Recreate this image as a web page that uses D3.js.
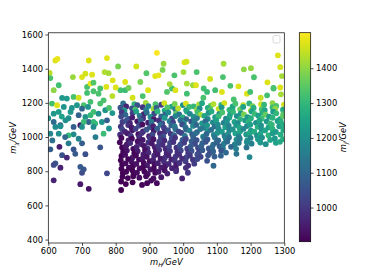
<!DOCTYPE html>
<html>
<head>
<meta charset="utf-8">
<script src="https://cdn.jsdelivr.net/npm/d3@7"></script>
<style>
    body { margin: 0; background: #fff; }
    svg { display: block; }
    text { font-family: "DejaVu Sans", sans-serif; }
</style>
</head>
<body>
<div id="chart"></div>
<script>
// x values (m_H), one line per group of points
const mH = [
    604,606,621,627,720,774,922,1004,1010,1120,
    1281,1288,807,861,942,939,1001,1040,1180,1201,
    1293,673,700,710,730,767,779,791,828,873,
    891,917,927,974,1011,1029,1038,1118,1164,1268,
    1288,631,616,715,725,734,754,772,814,828,
    838,896,952,967,977,1011,1061,1071,1095,1115,
    1189,1199,1249,1268,655,675,641,611,626,715,
    734,749,705,725,754,764,1230,1290,1150,1060,
    880,850,790,1140,960,1250,1210,1080,690,800,
    616,631,646,666,670,685,700,718,690,710,
    725,616,636,651,734,749,769,720,739,759,
    774,695,705,734,606,631,621,636,675,660,
    700,675,734,764,633,641,621,616,636,606,
    675,680,700,754,660,700,705,695,616,695,
    720,774,650,690,612,655,710,740,780,790,
    660,640,600,780,
    822,831,855,864,889,897,918,935,944,966,975,999,1008,1031,1047,1056,1082,1090,1113,1122,1147,1155,1178,1196,1206,1231,1240,1265,1276,1299,
    814,826,848,858,880,890,912,921,945,953,977,985,1009,1018,1041,1049,1073,1081,1105,1114,1137,1146,1169,1178,1201,1209,1233,1242,1265,1273,1296,
    818,829,850,861,883,892,914,924,947,956,979,988,1011,1020,1043,1052,1075,1084,1107,1116,1139,1148,1171,1180,1203,1212,1235,1244,1267,1276,1297,
    816,839,849,871,881,903,913,935,945,967,977,999,1009,1031,1041,1063,1073,1095,1105,1127,1137,1159,1169,1191,1201,1223,1233,1255,1265,1287,1296,
    820,832,842,864,874,896,906,928,938,960,970,992,1002,1024,1034,1056,1066,1088,1098,1120,1130,1152,1162,1184,1194,1216,1226,1248,1258,1280,1290,
    815,837,847,869,879,901,911,933,943,965,975,997,1007,1029,1039,1061,1071,1093,1103,1125,1135,1157,1167,1189,1199,1221,1231,1253,1263,1285,1295,
    819,827,849,859,881,891,913,923,945,955,977,987,1009,1019,1041,1051,1073,1083,1105,1115,1137,1147,1169,1179,1201,1211,1233,1243,1265,1275,1297,
    813,835,845,867,877,899,909,931,941,963,973,995,1005,1027,1037,1059,1069,1091,1101,1123,1133,1155,1165,1187,1197,1219,1229,1253,1265,1289,
    817,838,848,870,880,902,912,934,944,966,976,998,1008,1030,1040,1062,1072,1094,1104,1126,1136,1158,1168,1190,1200,1222,1234,1258,1272,1296,
    812,833,843,865,875,897,907,929,939,961,971,993,1003,1025,1035,1057,1067,1089,1099,1121,1131,1153,1165,1189,1203,1229,1245,1275,1287,
    819,830,852,862,884,894,916,926,948,958,980,990,1012,1022,1044,1054,1076,1086,1108,1118,1142,1157,1188,
    822,833,855,865,887,897,919,929,951,961,983,993,1015,1025,1047,1057,1079,1089,1113,1127,1158,
    817,828,850,860,882,892,914,924,946,956,978,988,1010,1020,1042,1052,1074,1093,1112,
    815,837,847,869,879,901,911,933,943,965,975,997,1007,1029,1042,1071,
    819,829,851,861,883,893,915,925,947,957,979,989,1015,1033,1090,
    817,839,849,871,881,903,913,935,945,967,979,1008,
    821,831,853,863,885,895,917,927,953,979,1014,
    820,836,852,870,890,912,935,997,
    816,830,850,878,893,922,905,816,1197
];

// y values (m_chi), same layout as mH
const mChi = [
    1375,1345,1448,1458,1448,1462,1493,1437,1441,1429,
    1478,1409,1413,1413,1429,1393,1380,1380,1396,1403,
    1357,1351,1351,1371,1365,1380,1374,1332,1322,1322,
    1374,1357,1361,1361,1313,1303,1303,1351,1297,1287,
    1290,1303,1274,1293,1313,1318,1284,1293,1274,1274,
    1287,1274,1264,1284,1274,1254,1284,1264,1274,1264,
    1254,1264,1244,1284,1225,1235,1229,1196,1186,1258,
    1268,1254,1186,1206,1196,1215,1230,1250,1220,1230,
    1240,1230,1240,1300,1310,1320,1350,1340,1230,1290,
    1137,1147,1176,1147,1170,1186,1166,1176,1128,1118,
    1128,1088,1069,1098,1147,1137,1157,1088,1079,1088,
    1098,1069,1088,1088,1020,1020,1059,1063,1016,1010,
    1059,1059,1059,1020,943,894,846,837,821,928,
    928,902,963,940,963,791,811,826,747,724,
    697,788,1000,990,980,880,900,1000,1050,1140,
    1110,1120,1110,1170,
    1197,1179,1193,1186,1200,1181,1192,1189,1199,1178,1194,1187,1196,1180,1191,1198,1183,1193,1188,1199,1180,1195,1186,1197,1181,1192,1189,1198,1182,1190,
    1172,1156,1168,1161,1175,1159,1164,1170,1155,1173,1162,1168,1157,1176,1160,1167,1171,1156,1165,1174,1159,1168,1163,1176,1155,1170,1162,1158,1173,1166,1160,
    1145,1130,1140,1149,1134,1143,1137,1150,1131,1144,1139,1132,1149,1136,1145,1130,1141,1150,1135,1144,1131,1147,1139,1133,1150,1136,1142,1131,1148,1139,1134,
    1120,1106,1114,1124,1109,1118,1104,1121,1112,1107,1123,1115,1105,1119,1111,1124,1106,1116,1121,1108,1114,1123,1105,1117,1110,1125,1107,1119,1113,1104,1121,
    1088,1096,1081,1092,1099,1084,1090,1097,1080,1093,1086,1099,1082,1091,1095,1080,1092,1086,1098,1083,1094,1089,1081,1097,1088,1083,1096,1091,1079,1094,1087,
    1061,1070,1056,1066,1073,1057,1064,1072,1055,1068,1062,1074,1057,1065,1071,1054,1069,1061,1073,1058,1066,1070,1055,1064,1072,1059,1068,1056,1073,1063,1069,
    1045,1031,1040,1048,1033,1043,1037,1049,1030,1041,1046,1032,1044,1038,1029,1047,1036,1042,1049,1031,1040,1045,1034,1048,1038,1031,1044,1039,1047,1030,1041,
    1014,1021,1006,1017,1023,1005,1015,1022,1004,1019,1011,1024,1007,1016,1022,1003,1018,1012,1024,1006,1017,1021,1004,1015,1023,1008,1019,1010,1022,1014,
    995,981,990,999,984,993,987,998,980,992,996,983,989,999,982,994,986,997,981,991,998,985,990,980,995,987,997,983,992,988,
    969,957,965,974,959,968,962,973,955,966,971,958,967,974,960,965,972,956,968,962,974,957,966,970,961,968,958,966,972,
    939,946,931,942,948,934,941,947,930,943,938,949,932,944,937,948,933,941,946,935,943,931,939,
    913,921,906,917,923,909,916,924,905,918,912,922,907,919,913,923,906,916,921,909,902,
    889,896,881,893,898,884,891,899,880,894,887,897,882,892,898,884,893,886,891,
    864,871,856,868,874,859,866,873,855,869,862,874,858,867,871,861,
    839,846,831,843,848,834,841,847,830,843,837,848,833,844,832,
    814,821,806,817,823,810,816,822,805,818,812,820,
    789,797,781,792,798,784,791,797,786,800,791,
    767,760,771,762,770,758,765,758,
    740,725,735,720,730,730,745,690,883
];

// colour values (m_J), same layout as mH
const mJ = [
    1440,1330,1470,1480,1470,1475,1502,1470,1460,1420,
    1470,1460,1380,1460,1410,1380,1420,1330,1400,1410,
    1420,1410,1470,1460,1470,1430,1420,1470,1470,1380,
    1340,1470,1480,1330,1420,1410,1470,1330,1470,1320,
    1470,1320,1400,1330,1480,1340,1330,1470,1320,1310,
    1370,1470,1340,1320,1470,1320,1320,1310,1320,1470,
    1470,1320,1320,1330,1230,1330,1220,1320,1470,1320,
    1330,1330,1330,1320,1330,1330,1450,1420,1330,1330,
    1330,1460,1440,1330,1420,1470,1330,1460,1460,1470,
    1220,1230,1210,1220,1210,1220,1100,1210,1090,1210,
    1300,1110,1090,1200,1320,1200,1210,1090,1300,1210,
    1080,950,1310,1300,1180,1200,1190,1200,1190,1300,
    1200,1080,1190,1310,950,1050,1060,1040,960,1080,
    1060,1070,1080,1060,1150,1040,1060,1070,960,940,
    930,1030,1100,1170,1120,970,1050,1150,1210,1220,
    1200,1240,1210,1330,
    1120,960,1300,1050,1420,1180,1330,1010,1460,1250,1380,1200,1470,1300,1420,1260,1350,1430,1300,1460,1250,1330,1440,1290,1380,1460,1300,1400,1330,1460,
    1060,1220,1050,1330,990,1180,1410,1080,1260,1340,1150,1440,1210,1310,1400,1190,1280,1350,1450,1220,1300,1260,1370,1240,1440,1280,1330,1250,1310,1400,1270,
    1000,1100,1010,1250,960,1120,1030,1290,1080,1200,1350,1130,1260,1180,1320,1420,1210,1270,1190,1330,1240,1300,1220,1380,1250,1310,1280,1360,1230,1300,1340,
    1040,1060,950,1130,990,1190,940,1100,1230,1020,1170,1280,1090,1210,1150,1250,1180,1220,1310,1170,1250,1200,1290,1220,1280,1240,1310,1230,1290,1260,1350,
    1010,1050,960,930,1090,950,1140,990,1030,1160,1020,1120,1190,1060,1150,1220,1110,1180,1240,1160,1210,1250,1180,1230,1290,1200,1260,1220,1300,1240,1280,
    990,990,940,1040,925,1070,960,1110,1010,1090,1150,1040,1130,1190,1100,1160,1210,1130,1190,1240,1170,1220,1260,1190,1240,1280,1210,1250,1300,1230,1270,
    1030,970,940,1020,950,1060,930,1080,990,1050,1120,1030,1100,1170,1080,1140,1200,1120,1180,1230,1160,1210,1250,1180,1230,1270,1210,1250,1290,1230,1270,
    980,950,1000,930,990,950,1030,970,1060,1000,1090,1020,1140,1070,1120,1180,1100,1160,1210,1140,1200,1240,1170,1220,1260,1200,1250,1290,1230,1270,
    920,950,915,980,940,1000,930,1020,970,1040,990,1070,1020,1090,1050,1120,1070,1140,1100,1170,1120,1190,1150,1220,1170,1230,1200,1250,1220,1280,
    915,940,980,925,960,990,940,1010,980,1030,990,1060,1010,1080,1040,1100,1060,1120,1090,1150,1110,1170,1140,1190,1160,1220,1200,1240,1260,
    910,940,920,960,935,980,950,1000,970,1020,990,1050,1010,1070,1040,1090,1060,1110,1080,1140,1100,1160,1130,
    910,930,905,950,925,970,940,990,960,1000,980,1030,1000,1050,1020,1070,1040,1090,1060,1110,1130,
    905,925,940,915,950,930,970,945,990,960,1000,980,1030,1000,1040,1020,1060,1080,1090,
    910,905,930,915,940,925,960,945,980,955,990,975,1010,995,1030,1050,
    905,920,905,930,915,945,925,955,935,970,950,990,975,1010,1100,
    905,915,903,925,910,935,915,945,930,960,945,985,
    903,912,906,920,908,930,915,940,955,985,1000,
    905,910,905,920,915,930,940,960,
    905,908,905,910,912,915,920,902,1180
];

const xTicks = [600, 700, 800, 900, 1000, 1100, 1200, 1300];
const yTicks = [400, 600, 800, 1000, 1200, 1400, 1600];
const cTicks = [1000, 1100, 1200, 1300, 1400];

const W = 382, H = 273;
const plot = { left: 48.3, right: 284.3, top: 32.8, bottom: 243 };
const bar = { left: 299.3, width: 11.4, top: 32.7, bottom: 241.7 };
const fontSize = 8.33;

const svg = d3.select("#chart").append("svg")
    .attr("width", W)
    .attr("height", H);

const x = d3.scaleLinear().domain([600, 1300]).range([plot.left, plot.right]);
const y = d3.scaleLinear().domain([380, 1610]).range([plot.bottom, plot.top]);

const n = Math.min(mH.length, mChi.length, mJ.length);
const points = d3.range(n).map((i) => ({ x: mH[i], y: mChi[i], z: mJ[i] }));

const c = d3.scaleLinear().domain(d3.extent(mJ)).range([0, 1]);
const color = (v) => d3.interpolateViridis(c(v));

// clip to the axes box
svg.append("clipPath").attr("id", "clip")
    .append("rect")
    .attr("x", plot.left).attr("y", plot.top)
    .attr("width", plot.right - plot.left)
    .attr("height", plot.bottom - plot.top);

svg.append("g")
    .attr("clip-path", "url(#clip)")
    .selectAll("circle")
    .data(points)
    .enter()
    .append("circle")
    .attr("cx", (d) => x(d.x))
    .attr("cy", (d) => y(d.y))
    .attr("r", 2.9)
    .attr("fill", (d) => color(d.z));

// axes
const fmt = d3.format("d");
const xAxis = svg.append("g")
    .attr("transform", `translate(0,${plot.bottom})`)
    .call(d3.axisBottom(x).tickValues(xTicks).tickFormat(fmt).tickSize(2.9).tickPadding(2.4).tickSizeOuter(0));
const yAxis = svg.append("g")
    .attr("transform", `translate(${plot.left},0)`)
    .call(d3.axisLeft(y).tickValues(yTicks).tickFormat(fmt).tickSize(2.9).tickPadding(2.4).tickSizeOuter(0));

[xAxis, yAxis].forEach((g) => {
    g.select(".domain").remove();
    g.selectAll("line").attr("stroke", "#000").attr("stroke-width", 0.7);
    g.selectAll("text")
        .attr("fill", "#000")
        .style("font-size", fontSize + "px")
        .style("font-family", '"DejaVu Sans", sans-serif');
});

// spines
svg.append("rect")
    .attr("x", plot.left).attr("y", plot.top)
    .attr("width", plot.right - plot.left)
    .attr("height", plot.bottom - plot.top)
    .attr("fill", "none")
    .attr("stroke", "#000")
    .attr("stroke-width", 0.7);

// empty legend frame
svg.append("rect")
    .attr("x", 273).attr("y", 35.5)
    .attr("width", 7).attr("height", 7.5)
    .attr("rx", 1.5)
    .attr("fill", "#fff")
    .attr("stroke", "#d0d0d0")
    .attr("stroke-width", 0.8);

// axis labels with subscripts
function mathLabel(g, sub) {
    const t = g.append("text")
        .style("font-size", fontSize + "px")
        .style("font-style", "italic")
        .attr("text-anchor", "middle");
    t.append("tspan").text("m");
    t.append("tspan").text(sub)
        .style("font-size", (fontSize * 0.7) + "px")
        .attr("dy", 2);
    t.append("tspan").text("/GeV").attr("dy", -2);
    return t;
}

mathLabel(svg.append("g").attr("transform", `translate(${(plot.left + plot.right) / 2},265)`), "H");
mathLabel(svg.append("g").attr("transform", `translate(16,${(plot.top + plot.bottom) / 2}) rotate(-90)`), "χ");

// colorbar
const defs = svg.append("defs");
const grad = defs.append("linearGradient")
    .attr("id", "cbar")
    .attr("x1", 0).attr("y1", 1)
    .attr("x2", 0).attr("y2", 0);
d3.range(0, 1.0001, 0.02).forEach((t) => {
    grad.append("stop")
        .attr("offset", t)
        .attr("stop-color", d3.interpolateViridis(t));
});

svg.append("rect")
    .attr("x", bar.left).attr("y", bar.top)
    .attr("width", bar.width)
    .attr("height", bar.bottom - bar.top)
    .attr("fill", "url(#cbar)")
    .attr("stroke", "#000")
    .attr("stroke-width", 0.7);

const cy = d3.scaleLinear().domain(d3.extent(mJ)).range([bar.bottom, bar.top]);
const cAxis = svg.append("g")
    .attr("transform", `translate(${bar.left + bar.width},0)`)
    .call(d3.axisRight(cy).tickValues(cTicks).tickFormat(fmt).tickSize(2.9).tickPadding(2.4).tickSizeOuter(0));
cAxis.select(".domain").remove();
cAxis.selectAll("line").attr("stroke", "#000").attr("stroke-width", 0.7);
cAxis.selectAll("text")
    .attr("fill", "#000")
    .style("font-size", fontSize + "px")
    .style("font-family", '"DejaVu Sans", sans-serif');

mathLabel(svg.append("g").attr("transform", `translate(346,${(bar.top + bar.bottom) / 2}) rotate(-90)`), "J");
</script>
</body>
</html>
